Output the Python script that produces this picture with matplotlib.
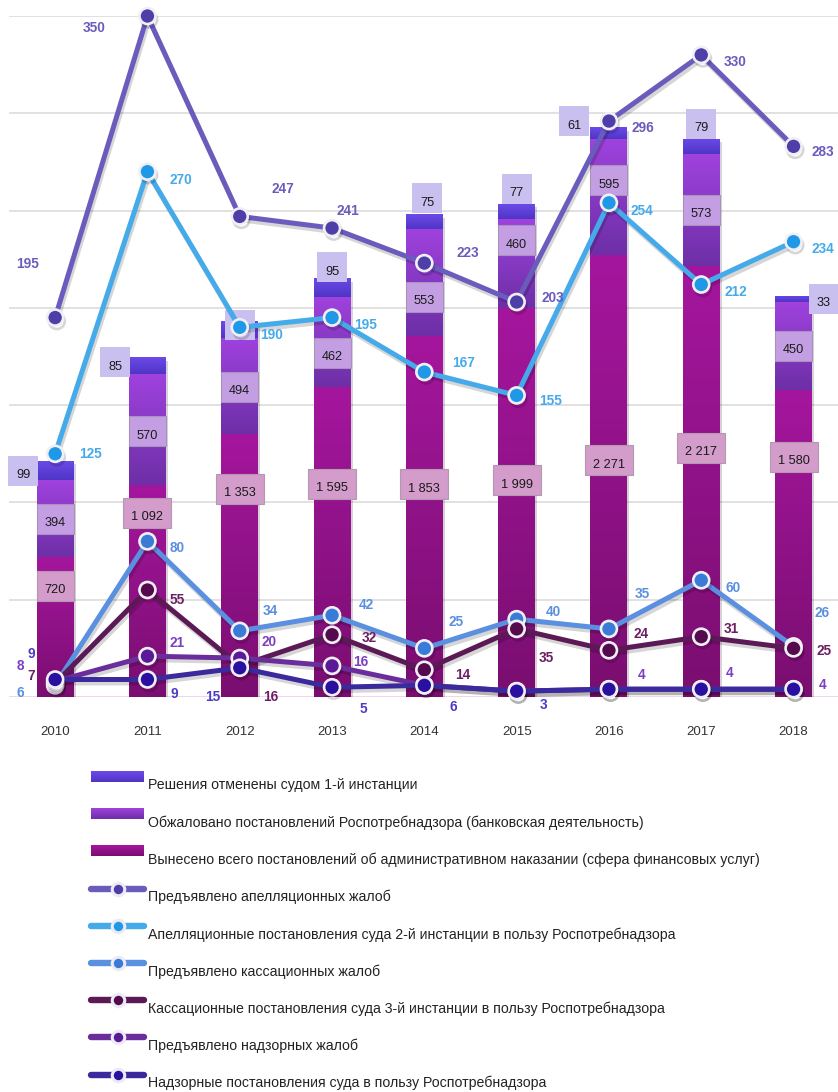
import numpy as np
import matplotlib
matplotlib.use("Agg")
import matplotlib.pyplot as plt
import matplotlib.patheffects as pe
from matplotlib.patches import Rectangle
from matplotlib.offsetbox import DrawingArea, AnnotationBbox
from matplotlib.text import Text
from matplotlib.colors import LinearSegmentedColormap

plt.rcParams["font.family"] = ["Liberation Sans", "DejaVu Sans"]

years = ["2010", "2011", "2012", "2013", "2014", "2015", "2016", "2017", "2018"]

# Stacked bars (left scale)
total_decisions = [720, 1092, 1353, 1595, 1853, 1999, 2271, 2217, 1580]
appealed = [394, 570, 494, 462, 553, 460, 595, 573, 450]
overturned = [99, 85, 85, 95, 75, 77, 61, 79, 33]

# Lines (right scale)
appeal_filed = [195, 350, 247, 241, 223, 203, 296, 330, 283]
appeal_won = [125, 270, 190, 195, 167, 155, 254, 212, 234]
cassation_filed = [6, 80, 34, 42, 25, 40, 35, 60, 26]
cassation_won = [7, 55, 16, 32, 14, 35, 24, 31, 25]
supervisory_filed = [8, 21, 20, 16, 6, 3, 4, 4, 4]
supervisory_won = [9, 9, 15, 5, 6, 3, 4, 4, 4]

bar_names = [
    "Решения отменены судом 1-й инстанции",
    "Обжаловано постановлений Роспотребнадзора (банковская деятельность)",
    "Вынесено всего постановлений об административном наказании (сфера финансовых услуг)",
]
line_names = [
    "Предъявлено апелляционных жалоб",
    "Апелляционные постановления суда 2-й инстанции в пользу Роспотребнадзора",
    "Предъявлено кассационных жалоб",
    "Кассационные постановления суда 3-й инстанции в пользу Роспотребнадзора",
    "Предъявлено надзорных жалоб",
    "Надзорные постановления суда в пользу Роспотребнадзора",
]

# ---- styles -------------------------------------------------------------
bar_grad = [("#6c4ae8", "#4f35c6"),   # overturned (top)
            ("#9f42de", "#6d2fa6"),   # appealed (middle)
            ("#a5169e", "#7a0e70")]   # total (bottom)
box_style = [("#c9c0ef", "none"), ("#c49ee2", "#a892bc"), ("#d39ccb", "#b398ae")]

line_style = [  # line colour, marker face, label colour
    ("#6a5cbd", "#4d3ea8", "#6a5cbd"),
    ("#45aaea", "#1f98e8", "#45aaea"),
    ("#5b8fe0", "#3a7bd8", "#5b8fe0"),
    ("#5b1a55", "#560a4e", "#6e1e62"),
    ("#6b2d9c", "#5a1a98", "#7b3fc2"),
    ("#3a2a9e", "#2a10a0", "#4b3cc4"),
]

# label offsets in pixels (dx right, dy down) for each line point; None = no label
line_label_off = [
    [(-28, -54), (-53, 12), (43, -27), (16, -17), (43, -10), (36, -4), (34, 7), (34, 7), (29, 6)],
    [(35, 0), (33, 8), (32, 8), (34, 7), (39, -9), (34, 6), (33, 8), (35, 7), (29, 7)],
    [(-35, 8), (30, 7), (31, -20), (34, -10), (32, -26), (37, -7), (33, -35), (32, 8), (29, -33)],
    [(-24, -7), (30, 10), (31, 31), (37, 3), (38, 5), (30, 29), (32, -16), (30, -8), (31, 3)],
    [(-35, -15), (30, -13), (29, -16), (29, -4), None, None, (33, -14), (28, -16), (29, -4)],
    [(-24, -25), (27, 15), (-27, 29), (31, 22), (29, 22), (27, 14), None, None, None],
]
# bar value boxes: offsets in pixels (dx right, dy down)
top_box_off = [(-32, 10), (-32, 5), (0, 4), (0, -11), (3, -16), (0, -15), (-35, -6), (0, -15), (30, 3)]
mid_box_dy = [0, 2, 1, 11, 14, -23, -17, 0, 0]          # from segment centre
bottom_box_dy = [29, 28, 55, 97, 148, 172, 205, 182, 67]  # below segment top

PX = 0.72  # points per pixel at 100 dpi


def fmt(v):
    return f"{v:,}".replace(",", " ")


W, H = 838, 1092
fig = plt.figure(figsize=(W / 100, H / 100), dpi=100)
fig.patch.set_facecolor("white")

left_px, right_px, top_px, base_px = 9, 838, 16, 697
ax = fig.add_axes([left_px / W, (H - base_px) / H, (right_px - left_px) / W, (base_px - top_px) / H])
band = 92.3
x = np.arange(len(years))
xmax = (right_px - left_px) / band - 0.5

# ---- bars ---------------------------------------------------------------
bw = 0.40
b_bottom = ax.bar(x, total_decisions, bw, color=bar_grad[2][1], zorder=2)
b_mid = ax.bar(x, appealed, bw, bottom=total_decisions, color=bar_grad[1][1], zorder=2)
stack2 = np.array(total_decisions) + np.array(appealed)
b_top = ax.bar(x, overturned, bw, bottom=stack2, color=bar_grad[0][1], zorder=2)

for bars in (b_bottom, b_mid, b_top):
    for b in bars:
        b.set_path_effects([pe.SimplePatchShadow(offset=(1.5, -2.5), alpha=0.18), pe.Normal()])


def gradient_fill(bars, top_c, bot_c):
    cmap = LinearSegmentedColormap.from_list("g", [bot_c, top_c])
    grad = np.linspace(0, 1, 256).reshape(-1, 1)
    for b in bars:
        x0, y0, w, h = b.get_x(), b.get_y(), b.get_width(), b.get_height()
        im = ax.imshow(grad, extent=[x0, x0 + w, y0, y0 + h], origin="lower",
                       aspect="auto", cmap=cmap, zorder=2.1, interpolation="bilinear")
        im.set_clip_path(b)


gradient_fill(b_top, *bar_grad[0])
gradient_fill(b_mid, *bar_grad[1])
gradient_fill(b_bottom, *bar_grad[2])


def value_box(xv, yv, text, w_px, fc, ec, dx_px=0, dy_px=0):
    w, h = w_px * PX, 30 * PX
    da = DrawingArea(w, h, 0, 0, clip=False)
    da.add_artist(Rectangle((0, 0), w, h, facecolor=fc, edgecolor=ec, linewidth=0.8))
    da.add_artist(Text(w / 2, h / 2 - 4.5 * PX, text, ha="center", va="center",
                       fontsize=9.2, color="#1a1a1a", family=["Liberation Sans", "DejaVu Sans"]))
    ab = AnnotationBbox(da, (xv, yv), xybox=(dx_px * PX, -dy_px * PX), xycoords="data",
                        boxcoords="offset points", frameon=False, pad=0,
                        box_alignment=(0.5, 0.5), annotation_clip=False, zorder=4)
    ax.add_artist(ab)


for i in range(len(years)):
    # top segment value near the bar top
    dx, dy = top_box_off[i]
    value_box(i, stack2[i] + overturned[i], fmt(overturned[i]), 30, *box_style[0],
              dx_px=dx, dy_px=dy)
    # middle segment value
    s = fmt(appealed[i])
    value_box(i, total_decisions[i] + appealed[i] / 2, s, 37 if len(s) <= 3 else 48,
              *box_style[1], dy_px=mid_box_dy[i])
    # bottom segment value
    s = fmt(total_decisions[i])
    value_box(i, total_decisions[i], s, 37 if len(s) <= 3 else 48, *box_style[2],
              dy_px=bottom_box_dy[i])

# ---- lines --------------------------------------------------------------
ax2 = ax.twinx()
ax2.set_ylim(0, 350)
ax2.set_xlim(-0.5, xmax)
ax2.axis("off")

ax.set_xlim(-0.5, xmax)
ax.set_ylim(0, 3500)
ax.set_yticks(np.arange(500, 3501, 500))
ax.yaxis.grid(True, color="#d9d9d9", linewidth=1.1, zorder=0)
ax.set_axisbelow(True)
ax.tick_params(axis="y", left=False, right=False, labelleft=False, labelright=False)
ax.set_xticks(x)
ax.set_xticklabels(years, fontsize=9.5, color="#333333")
ax.tick_params(axis="x", length=0, pad=21)
for sp in ax.spines.values():
    sp.set_visible(False)
ax.axhline(0, color="#ecd3ec", linewidth=1.3, zorder=1)
ax.patch.set_visible(False)

series = [appeal_filed, appeal_won, cassation_filed, cassation_won, supervisory_filed, supervisory_won]
for k, vals in enumerate(series):
    lc, mc, tc = line_style[k]
    ax2.plot(x, vals, color=lc, linewidth=3.6, marker="o", markersize=11.5,
             markerfacecolor=mc, markeredgecolor="#f1eff6", markeredgewidth=1.9,
             solid_joinstyle="round", clip_on=False, zorder=5 + k,
             path_effects=[pe.SimpleLineShadow(offset=(1.2, -2.5), alpha=0.16), pe.Normal()])
    for i, v in enumerate(vals):
        off = line_label_off[k][i]
        if off is None:
            continue
        ax2.annotate(str(v), (i, v), xytext=(off[0] * PX, -off[1] * PX), textcoords="offset points",
                     ha="center", va="center", fontsize=9.8, fontweight="bold", color=tc,
                     annotation_clip=False, zorder=20)

# ---- legend -------------------------------------------------------------
lg = fig.add_axes([0, 0, 1, 1], zorder=-1)
lg.patch.set_visible(False)
lg.axis("off")

row0, step = 785.5, 37.2
for j, name in enumerate(bar_names):
    yc = row0 + j * step
    top_c, bot_c = bar_grad[j]
    cmap = LinearSegmentedColormap.from_list("s", [top_c, bot_c])
    grad = np.linspace(0, 1, 64).reshape(-1, 1)
    lg.imshow(grad, extent=[91, 143, yc - 3.5, yc - 14.5], origin="upper", aspect="auto",
              cmap=cmap, interpolation="bilinear")
    lg.text(148, yc, name, ha="left", va="center", fontsize=10.2, color="#222222")

for k, name in enumerate(line_names):
    yc = row0 + (k + 3) * step
    lc, mc, tc = line_style[k]
    ys = yc - 8.5
    lg.plot([91, 144], [ys, ys], color=lc, linewidth=4.6, solid_capstyle="round")
    lg.plot([118], [ys], marker="o", markersize=9, markerfacecolor=mc,
            markeredgecolor="#ecebf3", markeredgewidth=2.2)
    lg.text(148, yc, name, ha="left", va="center", fontsize=10.2, color="#222222")

lg.set_xlim(0, W)
lg.set_ylim(H, 0)

fig.savefig("out.png", dpi=100, facecolor="white")
